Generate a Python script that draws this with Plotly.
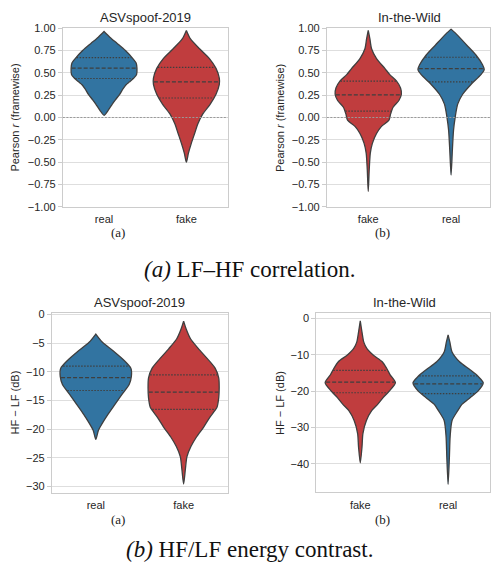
import numpy as np
import plotly.graph_objects as go

W, H = 491, 575

# ---------------- data ----------------
# Panel (a): Pearson r (framewise)
asv_r_cats = ["real", "fake"]
itw_r_cats = ["fake", "real"]

asv_r_real_y = [0.963, 0.90, 0.83, 0.75, 0.66, 0.61, 0.55, 0.48, 0.44, 0.40, 0.37, 0.32, 0.26, 0.20, 0.15, 0.08, 0.024]
asv_r_real_w = [0.0, 0.07, 0.16, 0.26, 0.35, 0.39, 0.40, 0.395, 0.36, 0.31, 0.27, 0.23, 0.19, 0.14, 0.10, 0.05, 0.0]
asv_r_real_q = [0.437, 0.554, 0.671]

asv_r_fake_y = [0.975, 0.88, 0.77, 0.66, 0.55, 0.44, 0.37, 0.26, 0.15, 0.04, -0.07, -0.18, -0.29, -0.40, -0.50]
asv_r_fake_w = [0.0, 0.05, 0.16, 0.28, 0.36, 0.40, 0.40, 0.36, 0.29, 0.20, 0.14, 0.10, 0.06, 0.025, 0.0]
asv_r_fake_q = [0.218, 0.400, 0.561]

itw_r_fake_y = [0.975, 0.88, 0.77, 0.66, 0.55, 0.48, 0.41, 0.33, 0.26, 0.19, 0.115, 0.04, -0.03, -0.10, -0.18, -0.29, -0.40, -0.58, -0.83]
itw_r_fake_w = [0.0, 0.02, 0.04, 0.10, 0.20, 0.26, 0.34, 0.39, 0.40, 0.37, 0.30, 0.27, 0.25, 0.16, 0.10, 0.05, 0.025, 0.012, 0.0]
itw_r_fake_q = [0.071, 0.254, 0.408]

itw_r_real_y = [0.99, 0.92, 0.81, 0.70, 0.59, 0.535, 0.48, 0.37, 0.26, 0.15, 0.005, -0.14, -0.36, -0.645]
itw_r_real_w = [0.0, 0.08, 0.19, 0.30, 0.38, 0.40, 0.36, 0.24, 0.14, 0.08, 0.05, 0.03, 0.016, 0.0]
itw_r_real_q = [0.400, 0.547, 0.675]

# Panel (b): HF - LF (dB)
asv_e_cats = ["real", "fake"]
itw_e_cats = ["fake", "real"]

asv_e_real_y = [-3.4, -4.84, -6.5, -7.97, -9.4, -10.8, -12.2, -13.9, -15.65, -17.4, -19.1, -20.2, -21.8]
asv_e_real_w = [0.0, 0.076, 0.21, 0.32, 0.40, 0.405, 0.38, 0.30, 0.22, 0.14, 0.07, 0.03, 0.0]
asv_e_real_q = [-13.26, -11.0, -9.0]

asv_e_fake_y = [-1.14, -2.56, -4.27, -5.98, -7.7, -9.4, -11.1, -12.8, -14.5, -16.2, -17.9, -19.6, -21.3, -23.05, -24.8, -27.0, -29.6]
asv_e_fake_w = [0.0, 0.03, 0.08, 0.17, 0.27, 0.36, 0.40, 0.405, 0.40, 0.38, 0.30, 0.23, 0.15, 0.083, 0.038, 0.02, 0.0]
asv_e_fake_q = [-16.56, -13.55, -10.53]

itw_e_fake_y = [-0.63, -3.8, -6.5, -8.3, -10.1, -11.9, -13.7, -15.5, -17.7, -20.0, -21.8, -23.6, -25.4, -28.1, -31.7, -35.3, -39.8]
itw_e_fake_w = [0.0, 0.02, 0.04, 0.076, 0.15, 0.25, 0.30, 0.34, 0.40, 0.33, 0.26, 0.20, 0.13, 0.07, 0.03, 0.02, 0.0]
itw_e_fake_q = [-20.45, -17.5, -14.3]

itw_e_real_y = [-4.5, -6.5, -9.2, -11.9, -14.1, -15.9, -17.7, -20.0, -21.8, -23.6, -25.4, -28.1, -32.6, -38.0, -45.7]
itw_e_real_w = [0.0, 0.02, 0.045, 0.13, 0.25, 0.34, 0.40, 0.34, 0.25, 0.16, 0.11, 0.045, 0.023, 0.015, 0.0]
itw_e_real_q = [-20.7, -18.0, -15.8]

r_ticks = [1.0, 0.75, 0.5, 0.25, 0.0, -0.25, -0.5, -0.75, -1.0]
r_ticktext = ["1.00", "0.75", "0.50", "0.25", "0.00", "\u22120.25", "\u22120.50", "\u22120.75", "\u22121.00"]
asv_e_ticks = [0, -5, -10, -15, -20, -25, -30]
asv_e_ticktext = ["0", "\u22125", "\u221210", "\u221215", "\u221220", "\u221225", "\u221230"]
itw_e_ticks = [0, -10, -20, -30, -40]
itw_e_ticktext = ["0", "\u221210", "\u221220", "\u221230", "\u221240"]

titles = ["ASVspoof-2019", "In-the-Wild", "ASVspoof-2019", "In-the-Wild"]
sub_labels = ["(a)", "(b)", "(a)", "(b)"]
captions = ["<i>(a)</i> LF\u2013HF correlation.", "<i>(b)</i> HF/LF energy contrast."]

BLUE = "#3274a1"
RED = "#c03d3e"
EDGE = "#3f3f3f"
colors = {"real": BLUE, "fake": RED}

# ---------------- figure ----------------
fig = go.Figure()

def px_x(x):
    return x / W

def px_y(y):
    return 1 - y / H

def add_violin(axn, pos, ys, ws, qs, color):
    ys = np.asarray(ys, float)
    ws = np.asarray(ws, float)
    xs = np.concatenate([pos + ws[::-1], pos - ws])
    yy = np.concatenate([ys[::-1], ys])
    xa = "x" if axn == 1 else f"x{axn}"
    ya = "y" if axn == 1 else f"y{axn}"
    fig.add_trace(go.Scatter(x=xs, y=yy, mode="lines", fill="toself", fillcolor=color,
                             line=dict(color=EDGE, width=1.3, shape="spline", smoothing=0.7),
                             xaxis=xa, yaxis=ya, showlegend=False, hoverinfo="skip"))
    order = np.argsort(ys)
    for i, q in enumerate(qs):
        w = float(np.interp(q, ys[order], ws[order])) - 0.006
        dash = "4px,2px" if i == 1 else "1.5px,1.5px"
        fig.add_trace(go.Scatter(x=[pos - w, pos + w], y=[q, q], mode="lines",
                                 line=dict(color=EDGE, width=1.2, dash=dash),
                                 xaxis=xa, yaxis=ya, showlegend=False, hoverinfo="skip"))

panels = [
    (1, asv_r_cats, [(asv_r_real_y, asv_r_real_w, asv_r_real_q), (asv_r_fake_y, asv_r_fake_w, asv_r_fake_q)]),
    (2, itw_r_cats, [(itw_r_fake_y, itw_r_fake_w, itw_r_fake_q), (itw_r_real_y, itw_r_real_w, itw_r_real_q)]),
    (3, asv_e_cats, [(asv_e_real_y, asv_e_real_w, asv_e_real_q), (asv_e_fake_y, asv_e_fake_w, asv_e_fake_q)]),
    (4, itw_e_cats, [(itw_e_fake_y, itw_e_fake_w, itw_e_fake_q), (itw_e_real_y, itw_e_real_w, itw_e_real_q)]),
]
for axn, cats, vs in panels:
    for i, (ys, ws, qs) in enumerate(vs):
        add_violin(axn, i, ys, ws, qs, colors[cats[i]])

# panel geometry in pixels: (left, right, top, bottom, xrange, yrange, ticks, ticktext)
geo = [
    (63, 228, 22.7, 205, [-0.5, 1.5], [-1, 1], r_ticks, r_ticktext, asv_r_cats),
    (327.5, 491, 22.7, 205, [-0.5, 1.47], [-1, 1], r_ticks, r_ticktext, itw_r_cats),
    (52, 228, 313.5, 497, [-0.5, 1.5], [-31.1, 0.28], asv_e_ticks, asv_e_ticktext, asv_e_cats),
    (317, 491, 313.3, 496.7, [-0.5, 1.477], [-47.9, 1.6], itw_e_ticks, itw_e_ticktext, itw_e_cats),
]

TICKFONT = dict(family="Liberation Sans, Arial, sans-serif", size=11, color="#262626")
layout = {}
for k, (l, r, t, b, xr, yr, tv, tt, cats) in enumerate(geo, start=1):
    sx = "xaxis" if k == 1 else f"xaxis{k}"
    sy = "yaxis" if k == 1 else f"yaxis{k}"
    anchor_x = "y" if k == 1 else f"y{k}"
    anchor_y = "x" if k == 1 else f"x{k}"
    layout[sx] = dict(domain=[px_x(l), px_x(r)], range=xr, anchor=anchor_x,
                      tickvals=[0, 1], ticktext=cats, showgrid=False, zeroline=False,
                      showline=True, mirror=True, linecolor="#cccccc", linewidth=1,
                      ticks="", tickfont=TICKFONT, ticklabelstandoff=2)
    layout[sy] = dict(domain=[px_y(b), px_y(t)], range=yr, anchor=anchor_y,
                      tickvals=tv, ticktext=tt, showgrid=True, gridcolor="#dedede", gridwidth=1,
                      zeroline=False, showline=True, mirror=True, linecolor="#cccccc", linewidth=1,
                      ticks="outside", ticklen=4, tickcolor="#cccccc", tickfont=TICKFONT)

fig.update_layout(width=W, height=H, margin=dict(l=0, r=0, t=0, b=0),
                  paper_bgcolor="white", plot_bgcolor="white", **layout)

# zero reference lines on correlation panels
for k in (1, 2):
    xr = "x" if k == 1 else f"x{k}"
    yr = "y" if k == 1 else f"y{k}"
    fig.add_shape(type="line", xref=f"{xr} domain", yref=yr, x0=0, x1=1, y0=0, y1=0,
                  line=dict(color="#9a9a9a", width=1.2, dash="2px,1.5px"), layer="above")

ann = []
SANS = "Liberation Sans, Arial, sans-serif"
SERIF = "Liberation Serif, Times New Roman, serif"
title_pos = [(145.5, 12), (410, 12), (140, 303), (405, 303)]
for (x, y), txt in zip(title_pos, titles):
    ann.append(dict(x=px_x(x), y=px_y(y), text=txt, font=dict(family=SANS, size=13, color="#262626")))
ylabels = ["Pearson <i>r</i> (framewise)", "Pearson <i>r</i> (framewise)", "HF \u2212 LF (dB)", "HF \u2212 LF (dB)"]
ylab_pos = [(15, 114), (280, 114), (15, 405), (280, 405)]
for (x, y), txt in zip(ylab_pos, ylabels):
    ann.append(dict(x=px_x(x), y=px_y(y), text=txt, textangle=-90,
                    font=dict(family=SANS, size=11, color="#262626")))
sub_pos = [(118, 231), (383, 231), (118, 524), (383, 524)]
for (x, y), txt in zip(sub_pos, sub_labels):
    ann.append(dict(x=px_x(x), y=px_y(y), text=txt, font=dict(family=SERIF, size=13, color="#222222")))
cap_pos = [(250, 269), (250, 555)]
for (x, y), txt in zip(cap_pos, captions):
    ann.append(dict(x=px_x(x), y=px_y(y), text=txt, font=dict(family=SERIF, size=23, color="#111111")))
for a in ann:
    a.update(xref="paper", yref="paper", showarrow=False, xanchor="center", yanchor="middle")
fig.update_layout(annotations=ann)

fig.write_html("out.html", config={"displayModeBar": False},
               post_script="document.body.style.margin='0px';document.body.style.overflow='hidden';")
